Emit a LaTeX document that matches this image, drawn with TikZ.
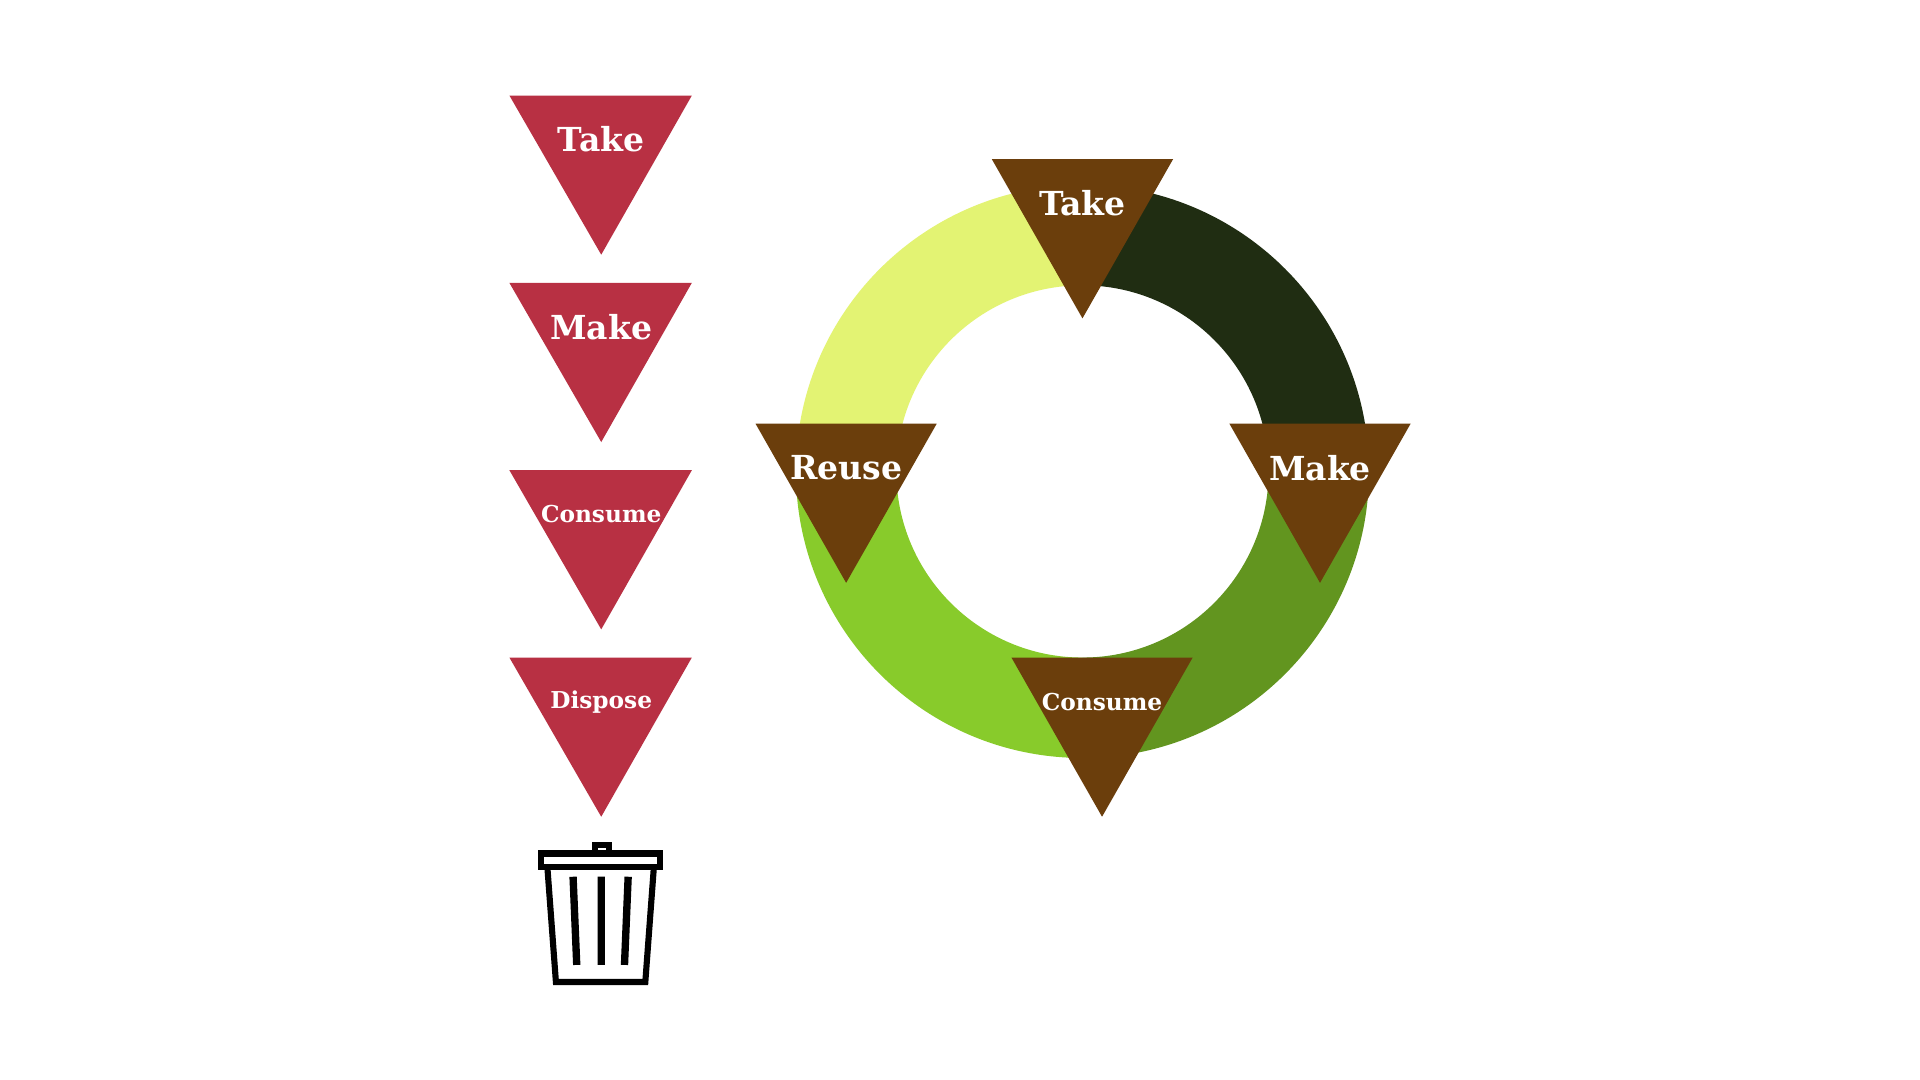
\documentclass[tikz,border=0pt]{standalone}
\usepackage{fontspec}
\setmainfont{DejaVu Serif}
\begin{document}
\begin{tikzpicture}[x=0.5pt,y=-0.5pt,
  redtri/.style={fill=red1},
  browntri/.style={fill=brown1},
  lab/.style={text=white,font=\bfseries\fontsize{13.5}{13.5}\selectfont},
  slab/.style={text=white,font=\bfseries\fontsize{9.5}{9.5}\selectfont}]
\definecolor{red1}{HTML}{B83043}
\definecolor{brown1}{HTML}{6B3E0C}
\definecolor{q1}{HTML}{E3F373}
\definecolor{q2}{HTML}{202D12}
\definecolor{q3}{HTML}{62951F}
\definecolor{q4}{HTML}{88CB2B}
\useasboundingbox (0,0) rectangle (1568,882);
\fill[white] (0,0) rectangle (1568,882);
% ring
\coordinate (c) at (884,385);
\fill[q4] (c) ++(180:234) arc[start angle=180,end angle=90,radius=234] -- ++(0,-82) arc[start angle=90,end angle=180,radius=152] -- cycle;
\fill[q3] (c) ++(90:234) arc[start angle=90,end angle=0,radius=234] -- ++(-82,0) arc[start angle=0,end angle=90,radius=152] -- cycle;
\fill[q2] (c) ++(0:234) arc[start angle=0,end angle=-90,radius=234] -- ++(0,82) arc[start angle=-90,end angle=0,radius=152] -- cycle;
\fill[q1] (c) ++(-90:234) arc[start angle=-90,end angle=-180,radius=234] -- ++(82,0) arc[start angle=-180,end angle=-90,radius=152] -- cycle;
% left column
\foreach \y/\t/\s in {78/Take/lab,231/Make/lab,384/Consume/slab,537/Dispose/slab}{
  \fill[redtri] (416,\y) -- (565,\y) -- (491,\y+130) -- cycle;
  \node[\s] (l\t) at (491,\y+36) {\t};
}
% brown triangles
\foreach \x/\y/\t/\s in {884/130/Take/lab,691/346/Reuse/lab,1078/346/Make/lab,900/537/Consume/slab}{
  \fill[browntri] (\x-74,\y) -- (\x+74,\y) -- (\x,\y+130) -- cycle;
  \node[\s] (b\t) at (\x,\y+36) {\t};
}
% trash can
\begin{scope}[line width=2.5pt,black]
\draw (486,690) rectangle (497,697);
\draw (442,697) rectangle (539,708);
\draw (447,708) -- (454,802) -- (527,802) -- (534,708);
\draw[line width=3pt] (468,716) -- (471,788) (491,716) -- (491,788) (513,716) -- (510,788);
\end{scope}
\end{tikzpicture}
\end{document}
